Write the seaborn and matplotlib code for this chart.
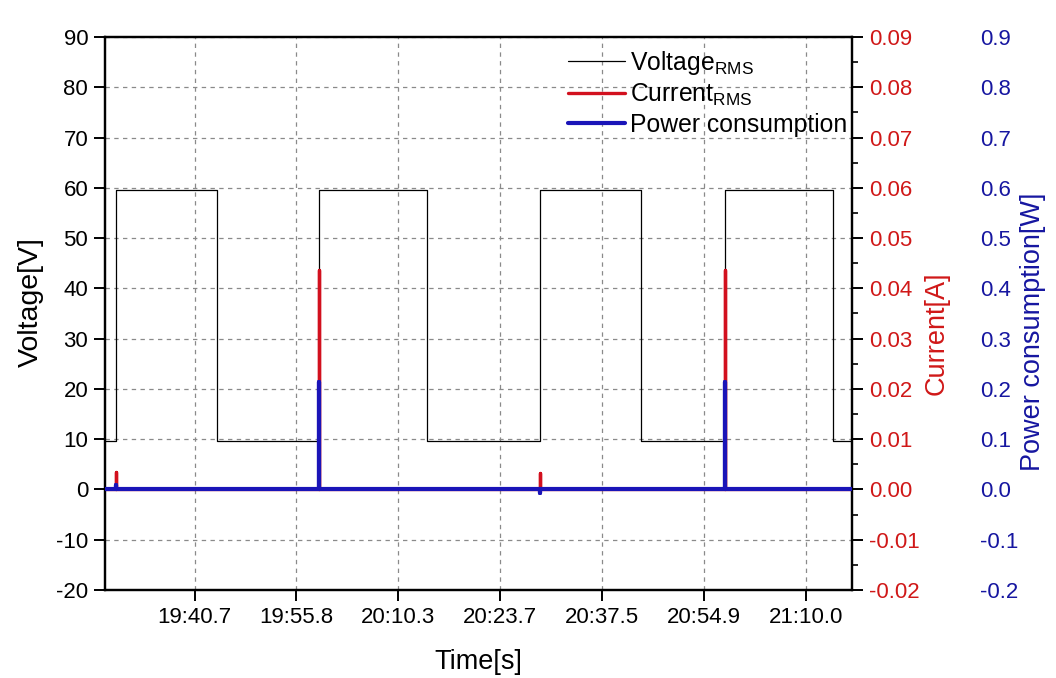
import matplotlib
matplotlib.use("Agg")
import matplotlib.pyplot as plt
import seaborn as sns
import pandas as pd
from matplotlib.ticker import MultipleLocator, FormatStrFormatter, FixedLocator

# ---------------- data (sample index on x; tick labels are clock times) ----------------
time_ticks = [100, 200, 300, 400, 500, 600, 700]
time_labels = ['19:40.7', '19:55.8', '20:10.3', '20:23.7', '20:37.5', '20:54.9', '21:10.0']

voltage_t = [12.0, 23.2, 122.0, 222.4, 327.8, 439.3, 537.8, 538.4, 620.8, 726.8, 745.1]
voltage_v = [9.6, 59.5, 9.6, 59.5, 9.6, 59.5, 34.6, 9.6, 59.5, 9.6, 9.6]

spike_t = [12.0, 23.2, 23.2, 23.2, 222.4, 222.4, 222.4, 439.3, 439.3, 439.3, 620.8, 620.8, 620.8, 745.1]
current_a = [0, 0, 0.0035, 0, 0, 0.0437, 0, 0, 0.0033, 0, 0, 0.0437, 0, 0]
power_w = [0, 0, 0.008, 0, 0, 0.214, 0, 0, -0.008, 0, 0, 0.214, 0, 0]

volt_df = pd.DataFrame({'t': voltage_t, 'v': voltage_v})
spike_df = pd.DataFrame({'t': spike_t, 'i': current_a, 'p': power_w})

# ---------------- style ----------------
sns.set_style('ticks')
plt.rcParams['font.family'] = ['Liberation Sans', 'DejaVu Sans']
plt.rcParams['mathtext.fontset'] = 'custom'
plt.rcParams['mathtext.rm'] = 'Liberation Sans'
plt.rcParams['mathtext.it'] = 'Liberation Sans'
plt.rcParams['axes.unicode_minus'] = False
plt.rcParams['text.color'] = 'black'
plt.rcParams['axes.labelcolor'] = 'black'
plt.rcParams['xtick.color'] = 'black'
plt.rcParams['ytick.color'] = 'black'

RED_LINE = '#D2101E'
RED_TXT = '#D01818'
BLUE_LINE = '#1A14B8'
BLUE_TXT = '#1616A0'

fig = plt.figure(figsize=(10.56, 6.78), dpi=100)
L, R, B, T = 104.8 / 1056, 852 / 1056, 1 - 590 / 678, 1 - 37 / 678
ax = fig.add_axes([L, B, R - L, T - B])
ax2 = ax.twinx()
ax3 = ax.twinx()

sns.lineplot(data=volt_df, x='t', y='v', ax=ax, color='black', lw=0.9,
             estimator=None, sort=False, drawstyle='steps-post', legend=False)
sns.lineplot(data=spike_df, x='t', y='i', ax=ax2, color=RED_LINE, lw=2.4,
             estimator=None, sort=False, legend=False)
sns.lineplot(data=spike_df, x='t', y='p', ax=ax3, color=BLUE_LINE, lw=3.0,
             estimator=None, sort=False, legend=False)

ax.set_xlim(11.9, 745.1)
ax.set_ylim(-20, 90)
ax2.set_ylim(-0.02, 0.09)
ax3.set_ylim(-0.2, 0.9)

ax.xaxis.set_major_locator(FixedLocator(time_ticks))
ax.set_xticklabels(time_labels)
ax.yaxis.set_major_locator(MultipleLocator(10))
ax2.yaxis.set_major_locator(MultipleLocator(0.01))
ax2.yaxis.set_minor_locator(MultipleLocator(0.005))
ax2.yaxis.set_major_formatter(FormatStrFormatter('%.2f'))
ax3.yaxis.set_major_locator(MultipleLocator(0.1))
ax3.yaxis.set_major_formatter(FormatStrFormatter('%.1f'))

ax.grid(True, which='major', axis='both', color='#8a8a8a', lw=0.9, ls=(0, (3.5, 3.5)))

for a in (ax, ax2):
    for s in a.spines.values():
        s.set_linewidth(1.6)
        s.set_color('black')
ax.tick_params(axis='both', which='major', direction='out', length=8, width=1.4,
               labelsize=16, pad=4, colors='black')
ax.tick_params(axis='y', right=False)
ax.tick_params(axis='x', top=False)
ax2.tick_params(axis='y', which='major', direction='out', length=8, width=1.4,
                labelsize=16, pad=4, labelcolor=RED_TXT, color='black')
ax2.tick_params(axis='y', which='minor', direction='out', length=4, width=1.2, color='black')

ax3.spines['right'].set_position(('axes', (980 - 104.8) / 747.2))
for s in ax3.spines.values():
    s.set_visible(False)
ax3.tick_params(axis='y', which='both', length=0, pad=0, labelsize=16, labelcolor=BLUE_TXT)

# axis labels
ax.set_xlabel('Time[s]', fontsize=19.5)
ax.xaxis.set_label_coords(0.5, (590 - 662) / 553)
ax.xaxis.label.set_va('center')
ax.set_ylabel('Voltage[V]', fontsize=20.5)
ax.yaxis.set_label_coords((31 - 104.8) / 747.2, 0.52)
ax.yaxis.label.set_va('center')
ax.yaxis.label.set_ha('center')
ax2.set_ylabel('Current[A]', fontsize=19.5, color=RED_TXT)
ax2.yaxis.set_label_coords((937 - 104.8) / 747.2, 0.465)
ax2.yaxis.label.set_va('center')
ax2.yaxis.label.set_ha('center')
ax3.set_ylabel('Power consumption[W]', fontsize=19.5, color=BLUE_TXT)
ax3.yaxis.set_label_coords((1033 - 104.8) / 747.2, 0.467)
ax3.yaxis.label.set_va('center')
ax3.yaxis.label.set_ha('center')

# legend
handles = [ax.get_lines()[0], ax2.get_lines()[0], ax3.get_lines()[0]]
labels = ['Voltage$_{\\mathrm{RMS}}$', 'Current$_{\\mathrm{RMS}}$', 'Power consumption']
leg = ax3.legend(handles, labels, loc='upper left', frameon=False, fontsize=17.8,
                 bbox_to_anchor=(568 / 1056, 1 - 49 / 678), bbox_transform=fig.transFigure,
                 borderpad=0, borderaxespad=0, handlelength=2.3, handletextpad=0.22,
                 labelspacing=0.2)

fig.savefig('out.png', dpi=100)
